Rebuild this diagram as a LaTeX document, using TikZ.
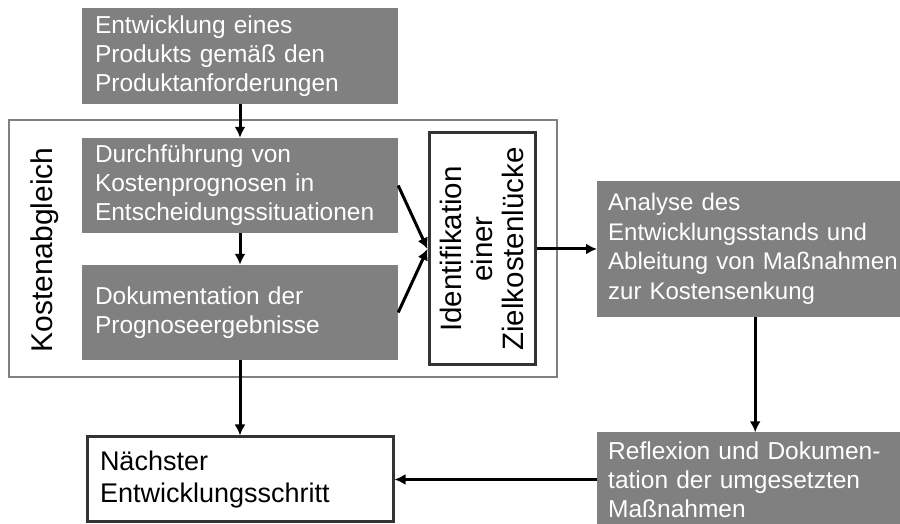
\documentclass[tikz,border=0pt]{standalone}
\usepackage{fontspec}
\setmainfont{Liberation Sans}
\usepackage{xcolor}
\usetikzlibrary{arrows.meta}

\definecolor{boxgray}{HTML}{808080}
\definecolor{framegray}{HTML}{333333}

\tikzset{
    graybox/.style={rectangle, fill=boxgray, text=white, align=left,
        text width=290pt, inner xsep=13pt, minimum height=95pt,
        font=\fontsize{24.5}{29}\selectfont},
    whitebox/.style={rectangle, draw=framegray, fill=white, line width=3pt,
        text=black},
    flow/.style={-{Latex[length=11pt,width=11pt]}, line width=3pt}
}

\begin{document}
\begin{tikzpicture}[x=1pt, y=1pt]
    \clip[use as bounding box] (0,0) rectangle (900,524);

    % Kostenabgleich frame
    \draw[boxgray, line width=2pt] (9,147) rectangle (557,404);
    \node[rotate=90, anchor=base, font=\fontsize{30}{32}\selectfont] (abgleich) at (53,274) {Kostenabgleich};

    % steps on the left
    \node[graybox, minimum height=96pt] (produkt) at (240,468)
        {Entwicklung eines\\Produkts gemäß den\\Produktanforderungen};
    \node[graybox] (prognose) at (240,338.5)
        {Durchführung von\\Kostenprognosen in\\Entscheidungssituationen};
    \node[graybox] (doku) at (240,211.5)
        {Dokumentation der\\Prognoseergebnisse};

    % rotated box, its north side faces left
    \node[whitebox, rotate=90, minimum width=232pt, minimum height=106pt,
        align=center, font=\fontsize{29.5}{31}\selectfont] (ident) at (482,275)
        {Identifikation\\einer\\Zielkostenlücke};

    % steps on the right (run off the page edge)
    \node[graybox, anchor=west, text width=320pt, inner xsep=11pt, minimum height=136pt,
        font=\fontsize{24}{29.5}\selectfont] (analyse) at (597,275)
        {Analyse des\\Entwicklungsstands und\\Ableitung von Maßnahmen\\zur Kostensenkung};
    \node[graybox, anchor=west, text width=320pt, inner xsep=11pt, minimum height=94pt] (reflexion) at (597,44.5)
        {Reflexion und Dokumen-\\tation der umgesetzten\\Maßnahmen};

    \node[whitebox, text width=280pt, inner xsep=13pt, minimum height=85pt, align=left,
        font=\fontsize{27}{32}\selectfont] (naechster) at (240,44.5)
        {Nächster\\Entwicklungsschritt};

    % arrows
    \draw[flow] (produkt) -- (prognose);
    \draw[flow] (prognose) -- (doku);
    \draw[flow] (doku) -- (naechster);
    \draw[flow] (prognose.east) -- (ident.north);
    \draw[flow] (doku.east) -- (ident.north);
    \draw[flow] (ident.south) -- (analyse.west);
    \draw[flow] ([xshift=-13pt]analyse.south) -- ([xshift=-13pt]reflexion.north);
    \draw[flow] (reflexion) -- (naechster);
\end{tikzpicture}
\end{document}
